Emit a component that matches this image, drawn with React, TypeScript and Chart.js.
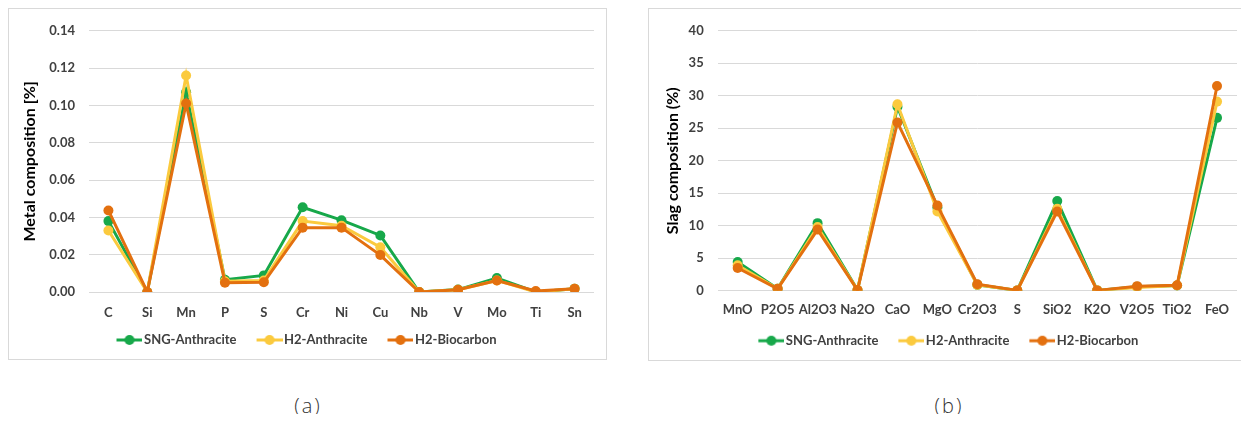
import React, { useEffect, useRef } from "react";
import { Chart, registerables } from "chart.js";
Chart.register(...registerables);

const seriesNames = ["SNG-Anthracite", "H2-Anthracite", "H2-Biocarbon"];
const seriesColors = ["#17a84a", "#fbca3e", "#e3700f"];

const metalCategories = ["C", "Si", "Mn", "P", "S", "Cr", "Ni", "Cu", "Nb", "V", "Mo", "Ti", "Sn"];
const metalSNG = [0.038, 0.0, 0.107, 0.0066, 0.0089, 0.0454, 0.0385, 0.0303, 0.0, 0.0013, 0.0075, 0.0, 0.0018];
const metalH2A = [0.033, 0.0, 0.116, 0.0058, 0.0062, 0.038, 0.0355, 0.024, 0.0, 0.0012, 0.0062, 0.0, 0.0017];
const metalH2B = [0.0437, 0.0, 0.101, 0.005, 0.0052, 0.0345, 0.0345, 0.0198, 0.0, 0.0012, 0.0062, 0.0005, 0.0017];

const slagCategories = ["MnO", "P2O5", "Al2O3", "Na2O", "CaO", "MgO", "Cr2O3", "S", "SiO2", "K2O", "V2O5", "TiO2", "FeO"];
const slagSNG = [4.4, 0.3, 10.4, 0.1, 28.3, 12.8, 0.9, 0.05, 13.8, 0.05, 0.6, 0.8, 26.6];
const slagH2A = [3.9, 0.3, 9.8, 0.1, 28.7, 12.2, 0.9, 0.05, 12.6, 0.05, 0.5, 0.8, 29.1];
const slagH2B = [3.5, 0.3, 9.4, 0.1, 25.9, 13.1, 1.0, 0.05, 12.2, 0.05, 0.7, 0.85, 31.5];

const FONT = "Lato, 'Open Sans', sans-serif";
const TEXT = "#404040";

const LEG_PAD = 10;
const LEG_BOX = 31;
const LEG_IMG = LEG_BOX + 10;

function legendMarker(color: string) {
  const c = document.createElement("canvas");
  c.width = LEG_IMG;
  c.height = 12;
  const ctx = c.getContext("2d")!;
  const x0 = LEG_IMG - 26;
  ctx.strokeStyle = color;
  ctx.lineWidth = 3;
  ctx.beginPath();
  ctx.moveTo(x0, 6);
  ctx.lineTo(LEG_IMG, 6);
  ctx.stroke();
  ctx.fillStyle = color;
  ctx.beginPath();
  ctx.arc(x0 + 13, 6, 5, 0, Math.PI * 2);
  ctx.fill();
  return c;
}

type Cfg = {
  labels: string[];
  data: number[][];
  yMax: number;
  yStep: number;
  decimals: number;
  yTitle: string;
  width: number;
  height: number;
  padRight: number;
  padBottom: number;
  yWidth: number;
  xHeight: number;
  titlePad: number;
  yTickPad: number;
  xTickPad: number;
};

function LineChart({ cfg }: { cfg: Cfg }) {
  const ref = useRef<HTMLCanvasElement>(null);
  useEffect(() => {
    const markers = seriesColors.map(legendMarker);
    const chart = new Chart(ref.current!, {
      type: "line",
      data: {
        labels: cfg.labels,
        datasets: cfg.data.map((d, i) => ({
          label: seriesNames[i],
          data: d,
          borderColor: seriesColors[i],
          backgroundColor: seriesColors[i],
          pointBackgroundColor: seriesColors[i],
          pointBorderColor: seriesColors[i],
          borderWidth: 3,
          pointRadius: 5,
          pointBorderWidth: 0,
          tension: 0,
          order: 3 - i,
        })),
      },
      options: {
        animation: false,
        responsive: false,
        devicePixelRatio: 1,
        layout: { padding: { top: 15, right: cfg.padRight, bottom: cfg.padBottom, left: 0 } },
        plugins: {
          tooltip: { enabled: false },
          legend: {
            position: "bottom",
            labels: {
              usePointStyle: true,
              pointStyleWidth: LEG_BOX,
              boxHeight: 13,
              padding: LEG_PAD,
              color: TEXT,
              font: { family: FONT, size: 13, weight: "bold" },
              sort: (a: any, b: any) => a.datasetIndex - b.datasetIndex,
              generateLabels: (ch: any) => {
                const items = Chart.defaults.plugins.legend.labels.generateLabels(ch);
                return items.map((it: any) => ({ ...it, pointStyle: markers[it.datasetIndex] }));
              },
            },
          },
        },
        scales: {
          x: {
            offset: true,
            grid: { display: false, drawTicks: false },
            border: { display: false },
            ticks: {
              color: TEXT,
              font: { family: FONT, size: 13, weight: "bold" },
              padding: cfg.xTickPad,
              maxRotation: 0,
              autoSkip: false,
            },
            afterFit: (s: any) => {
              s.height = cfg.xHeight;
            },
          },
          y: {
            min: 0,
            max: cfg.yMax,
            grid: { color: "#d9d9d9", lineWidth: 1, drawTicks: false },
            border: { display: false },
            ticks: {
              stepSize: cfg.yStep,
              color: TEXT,
              padding: cfg.yTickPad,
              font: { family: FONT, size: 13, weight: "bold" },
              callback: (v: any) => Number(v).toFixed(cfg.decimals),
            },
            title: {
              display: true,
              text: cfg.yTitle,
              color: "#000",
              font: { family: FONT, size: 16, weight: "bold" },
              padding: { top: cfg.titlePad, bottom: 0 },
            },
            afterFit: (s: any) => {
              s.width = cfg.yWidth;
            },
          },
        },
      },
    } as any);
    return () => chart.destroy();
  }, []);
  return <canvas ref={ref} width={cfg.width} height={cfg.height} style={{ width: cfg.width, height: cfg.height, display: "block" }} />;
}

const leftCfg: Cfg = {
  labels: metalCategories,
  data: [metalSNG, metalH2A, metalH2B],
  yMax: 0.14,
  yStep: 0.02,
  decimals: 2,
  yTitle: "Metal composition [%]",
  width: 597,
  height: 350,
  padRight: 12,
  padBottom: 2.5,
  yWidth: 80,
  xHeight: 31.5,
  titlePad: 11.4,
  yTickPad: 14,
  xTickPad: 13.2,
};

const rightCfg: Cfg = {
  labels: slagCategories,
  data: [slagSNG, slagH2A, slagH2B],
  yMax: 40,
  yStep: 5,
  decimals: 0,
  yTitle: "Slag composition (%)",
  width: 593,
  height: 351,
  padRight: 4.3,
  padBottom: 2.8,
  yWidth: 68.7,
  xHeight: 33.5,
  titlePad: 14.4,
  yTickPad: 14,
  xTickPad: 11.8,
};

export default function App() {
  const box = { position: "absolute" as const, top: 0, border: "1px solid #d9d9d9", background: "#fff" };
  const cap = {
    position: "absolute" as const,
    top: 384,
    width: 100,
    textAlign: "center" as const,
    fontFamily: "'Open Sans', sans-serif",
    fontWeight: 300,
    fontSize: 20,
    letterSpacing: 2,
    color: "#333",
    lineHeight: "28px",
  };
  return (
    <div style={{ position: "relative", width: 1233, height: 406 }}>
      <div style={{ ...box, left: 0, width: 597, height: 350 }}>
        <LineChart cfg={leftCfg} />
      </div>
      <div style={{ ...box, left: 640, width: 593, height: 351 }}>
        <LineChart cfg={rightCfg} />
      </div>
      <div style={{ ...cap, left: 250 }}>(a)</div>
      <div style={{ ...cap, left: 891 }}>(b)</div>
    </div>
  );
}
